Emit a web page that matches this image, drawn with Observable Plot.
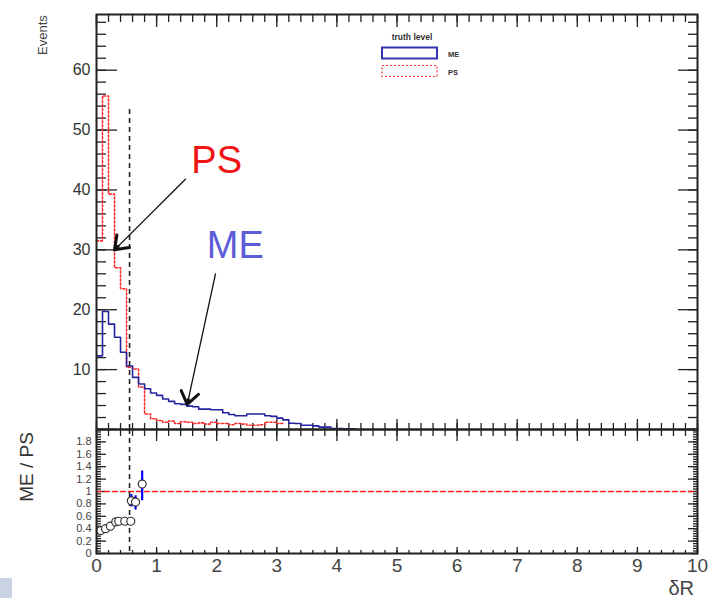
<!DOCTYPE html>
<html><head><meta charset="utf-8">
<script src="https://cdn.jsdelivr.net/npm/d3@7"></script>
<script src="https://cdn.jsdelivr.net/npm/@observablehq/plot@0.6"></script>
<style>
body{margin:0;background:#fff;}
#wrap{position:relative;width:708px;height:598px;overflow:hidden;font-family:"Liberation Sans",Arial,sans-serif;background:#fff;}
#wrap > svg, #wrap > div{position:absolute;left:0;}
</style></head><body><div id="wrap"></div>
<script>
// ---- data ----
const binWidth = 0.1;
const meBinStart = d3.range(0, 43).map(i => +(i * binWidth).toFixed(1));
const meEvents = [12.3,19.7,17.6,15.4,12.9,10.6,8.7,7.6,6.8,6.1,
  5.7,5.1,4.7,4.3,4.2,3.9,3.8,3.4,3.4,3.3,
  3.3,2.8,2.5,2.3,2.3,2.6,2.6,2.6,2.3,2.2,
  1.9,1.6,1.05,1.0,0.7,0.7,0.6,0.4,0.4,0.15,
  0.15,0.1,0.1];
const psBinStart = d3.range(0, 31).map(i => +(i * binWidth).toFixed(1));
const psEvents = [31.5,55.7,39.3,27.0,23.5,10.4,10.1,7.1,2.6,1.8,
  1.5,1.2,1.4,1.0,1.3,1.2,1.0,1.1,0.9,1.2,
  1.0,1.0,0.8,1.0,0.9,0.7,0.7,0.8,1.2,1.2,
  1.0];
const ratioX  = [0.07,0.15,0.23,0.32,0.37,0.47,0.57,0.58,0.65,0.76];
const ratioY  = [0.37,0.40,0.44,0.51,0.52,0.52,0.52,0.85,0.83,1.12];
const ratioLo = [0.34,0.37,0.41,0.48,0.49,0.49,0.49,0.75,0.70,0.85];
const ratioHi = [0.40,0.43,0.47,0.54,0.55,0.55,0.55,0.95,0.93,1.33];
const cutDR = 0.55, cutTop = 54;
const xTicks = d3.range(0, 11);
const upperYTicks = [10,20,30,40,50,60];
const lowerYTicks = [0,0.2,0.4,0.6,0.8,1,1.2,1.4,1.6,1.8];
const annotations = [
  {label: "PS", x: 2.0, y: 44.9, x1: 1.48, y1: 41.8, x2: 0.30, y2: 30.0, color: "#f01414"},
  {label: "ME", x: 2.31, y: 30.75, x1: 1.98, y1: 26.0, x2: 1.51, y2: 4.2, color: "#5c5cd8"}
];

// ---- layout ----
const W = 708, ML = 96, MR = 11, UT = 14, UB = 429, LB = 553;
const FONT = '"Liberation Sans", Arial, sans-serif';
const INK = "#222";

// ---- build tables ----
const step = (starts, vals) => starts.map((x, i) => ({x, y: vals[i]}))
  .concat([{x: starts[starts.length - 1] + binWidth, y: vals[vals.length - 1]}]);
const meLine = step(meBinStart, meEvents);
const psLine = step(psBinStart, psEvents);
const ratio = ratioX.map((x, i) => ({x, y: ratioY[i], lo: ratioLo[i], hi: ratioHi[i]}));

const sx = Plot.scale({x: {domain: [0, 10], range: [ML, W - MR]}});
const sy = Plot.scale({y: {domain: [0, 69.3], range: [UB, UT]}});
const headMarks = annotations.map(a => {
  const len = Math.hypot(sx.apply(a.x2) - sx.apply(a.x1), sy.apply(a.y2) - sy.apply(a.y1));
  return Plot.arrow([a], {x1: "x1", y1: "y1", x2: "x2", y2: "y2", stroke: "#111", strokeWidth: 3,
    headLength: 7.5, headAngle: 72, insetStart: len - 5});
});

const blank = () => "";
const ticksX = (vals, anchor, size) => Plot.axisX(vals, {anchor, tickSize: size, tickFormat: blank, label: null, stroke: INK, strokeWidth: 1.3});
const ticksY = (vals, anchor, size) => Plot.axisY(vals, {anchor, tickSize: size, tickFormat: blank, label: null, stroke: INK, strokeWidth: 1.3});
const minorX = d3.range(0, 10.001, 0.2);

const upper = Plot.plot({
  width: W, height: UB + 1, marginTop: UT, marginBottom: 1, marginLeft: ML, marginRight: MR,
  x: {domain: [0, 10]}, y: {domain: [0, 69.3]},
  style: {fontFamily: FONT, background: "transparent", overflow: "visible"},
  marks: [
    ticksX(minorX, "top", -7), ticksX(xTicks, "top", -12),
    ticksX(minorX, "bottom", -6), ticksX(xTicks, "bottom", -10),
    ticksY(d3.range(0, 69, 2), "left", -10), ticksY(d3.range(0, 69, 10), "left", -21),
    ticksY(d3.range(0, 69, 2), "right", -10), ticksY(d3.range(0, 69, 10), "right", -20),
    Plot.axisY(upperYTicks, {anchor: "left", tickSize: 0, tickPadding: 6, label: null, fontSize: 16, fill: "#333"}),
    Plot.line(psLine, {x: "x", y: "y", curve: "step-after", stroke: "#ff2a2a", strokeWidth: 1.6, strokeDasharray: "2,2"}),
    Plot.line(meLine, {x: "x", y: "y", curve: "step-after", stroke: "#2424a0", strokeWidth: 1.6}),
    Plot.ruleX([cutDR], {y1: 0, y2: cutTop, stroke: INK, strokeWidth: 1.6, strokeDasharray: "5,4"}),
    Plot.arrow(annotations, {x1: "x1", y1: "y1", x2: "x2", y2: "y2", stroke: "#111", strokeWidth: 1.3, headLength: 0}),
    ...headMarks,
    Plot.text(annotations, {x: "x", y: "y", text: "label", fill: "color", fontSize: 38, textAnchor: "middle"}),
    Plot.frame({stroke: INK, strokeWidth: 2})
  ]
});
upper.style.top = "0px";

const lower = Plot.plot({
  width: W, height: 598 - UB, marginTop: 0, marginBottom: 598 - LB, marginLeft: ML, marginRight: MR,
  x: {domain: [0, 10]}, y: {domain: [0, 2]},
  style: {fontFamily: FONT, background: "transparent", overflow: "visible"},
  marks: [
    ticksX(minorX, "top", -6), ticksX(xTicks, "top", -11),
    ticksX(minorX, "bottom", -3), ticksX(xTicks, "bottom", -6),
    ticksY(d3.range(0, 2.001, 0.04), "left", -5), ticksY(d3.range(0, 2.001, 0.2), "left", -10),
    ticksY(d3.range(0, 2.001, 0.04), "right", -5), ticksY(d3.range(0, 2.001, 0.2), "right", -10),
    Plot.axisX(xTicks, {anchor: "bottom", tickSize: 0, tickPadding: 5, label: null, fontSize: 19, fill: "#444"}),
    Plot.axisY(lowerYTicks, {anchor: "left", tickSize: 0, tickPadding: 5, label: null, fontSize: 11, fill: "#444",
      tickFormat: d => String(+d.toFixed(1))}),
    Plot.ruleY([1], {stroke: "#ff2020", strokeWidth: 1.4, strokeDasharray: "6,2"}),
    Plot.ruleX([cutDR], {stroke: INK, strokeWidth: 1.6, strokeDasharray: "5,4"}),
    Plot.ruleX(ratio, {x: "x", y1: "lo", y2: "hi", stroke: d => d.x > cutDR ? "blue" : "black", strokeWidth: d => d.x > cutDR ? 2.2 : 1}),
    Plot.dot(ratio, {x: "x", y: "y", r: 4, stroke: "#333", fill: "white", strokeWidth: 1.2}),
    Plot.frame({stroke: INK, strokeWidth: 2})
  ]
});
lower.style.top = UB + "px";

const wrap = document.getElementById("wrap");
wrap.appendChild(upper);
wrap.appendChild(lower);

// legend and axis titles
const ns = "http://www.w3.org/2000/svg";
const over = d3.create("svg").attr("xmlns", ns).attr("width", W).attr("height", 598)
  .style("top", "0px").style("pointer-events", "none").style("font-family", FONT);
over.append("text").attr("x", 412).attr("y", 40).attr("text-anchor", "middle")
  .attr("font-size", 8.5).attr("font-weight", "bold").attr("fill", "#333").text("truth level");
over.append("rect").attr("x", 382).attr("y", 47.5).attr("width", 55).attr("height", 11)
  .attr("fill", "none").attr("stroke", "#3434b0").attr("stroke-width", 2);
over.append("text").attr("x", 448).attr("y", 57).attr("font-size", 7.5).attr("font-weight", "bold").attr("fill", "#333").text("ME");
over.append("rect").attr("x", 382).attr("y", 65.5).attr("width", 55).attr("height", 11)
  .attr("fill", "none").attr("stroke", "#ff3030").attr("stroke-width", 1.2).attr("stroke-dasharray", "2,2");
over.append("text").attr("x", 448).attr("y", 75).attr("font-size", 7.5).attr("font-weight", "bold").attr("fill", "#333").text("PS");
over.append("text").attr("transform", "translate(47,55) rotate(-90)").attr("font-size", 13).attr("fill", "#444").text("Events");
over.append("text").attr("transform", "translate(33,467) rotate(-90)").attr("text-anchor", "middle")
  .attr("font-size", 19).attr("fill", "#333").text("ME / PS");
over.append("text").attr("x", 694).attr("y", 595).attr("text-anchor", "end").attr("font-size", 20).attr("fill", "#444").text("δR");
wrap.appendChild(over.node());

const tab = document.createElement("div");
tab.style.cssText = "top:578px;left:0;width:12px;height:20px;background:#c9d3e3;";
wrap.appendChild(tab);
</script></body></html>
